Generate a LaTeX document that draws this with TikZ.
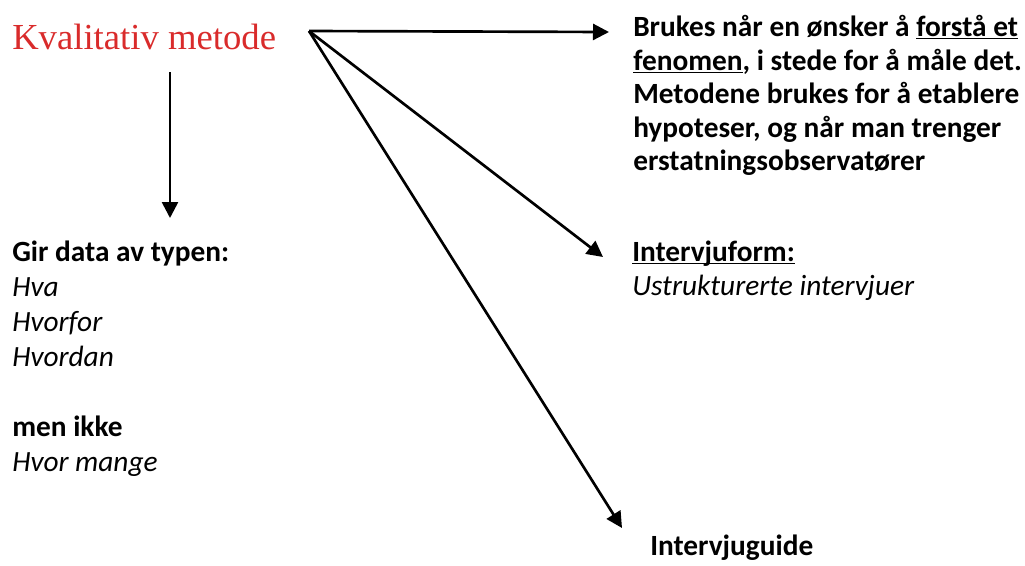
\documentclass[tikz,border=0pt]{standalone}
\usepackage{fontspec}
\setmainfont{Carlito}
\newfontfamily\tittelfont{Liberation Serif}
\usetikzlibrary{arrows.meta}
\definecolor{tittelrod}{HTML}{D92B2B}
\newcommand\strek[1]{\underline{\smash{#1}}}

\begin{document}
\begin{tikzpicture}[x=0.75pt, y=-0.75pt]
    \useasboundingbox (0,0) rectangle (1025,565);
    \tikzset{
      pil/.style={-{Triangle[length=12pt, width=12pt]}, line width=2pt},
      tekst/.style={anchor=north west, inner sep=0pt, align=left,
        font=\fontsize{22}{26}\selectfont},
    }
    % tittel og startpunkt for pilene
    \node[anchor=base west, inner sep=0pt, text=tittelrod,
      font=\tittelfont\fontsize{27.5}{30}\selectfont] (tittel) at (12,49) {Kvalitativ metode};
    \coordinate (start) at (309,31);
    \coordinate (ned) at (170,72);
    % tekstblokker
    \node[tekst, font=\fontsize{22}{26.2}\selectfont] (typer) at (12,241)
      {\textbf{Gir data av typen:}\\ \textit{Hva}\\ \textit{Hvorfor}\\ \textit{Hvordan}\\[26.2pt]
       \textbf{men ikke}\\ \textit{Hvor mange}};
    \node[tekst, font=\bfseries\fontsize{22}{25.2}\selectfont] (bruk) at (633,15)
      {Brukes når en ønsker å \strek{forstå et}\\ \strek{fenomen}, i stede for å måle det.\\
       Metodene brukes for å etablere\\ hypoteser, og når man trenger\\ erstatningsobservatører};
    \node[tekst] (form) at (632,261)
      {\textbf{\strek{Intervjuform:}}\\ \textit{Ustrukturerte intervjuer}};
    \node[tekst, font=\bfseries\fontsize{22}{26}\selectfont] (guide) at (650,535) {Intervjuguide};
    % piler
    \coordinate (mal0) at (170,218);
    \coordinate (mal1) at (609,32);
    \coordinate (mal2) at (603,257);
    \coordinate (mal3) at (622,528);
    \draw[pil] (ned) -- (mal0);
    \draw[pil] (start) -- (mal1);
    \draw[pil] (start) -- (mal2);
    \draw[pil] (start) -- (mal3);
\end{tikzpicture}
\end{document}
